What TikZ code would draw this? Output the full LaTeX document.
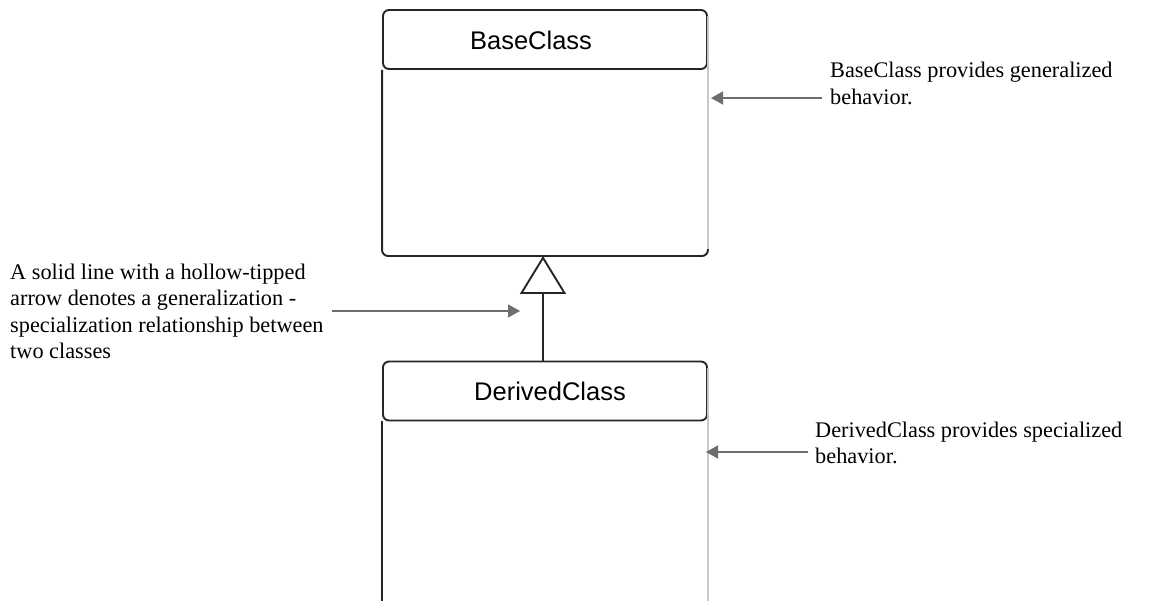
\documentclass[tikz,border=0pt]{standalone}
\usepackage{fontspec}
\setmainfont{Liberation Serif}
\newfontfamily\classfont{Liberation Sans}
\usetikzlibrary{positioning,calc,arrows.meta}
\definecolor{boxline}{HTML}{262626}
\definecolor{edgegray}{HTML}{C8C8C8}
\definecolor{notegray}{HTML}{6E6E6E}
\tikzset{header/.style={draw=boxline, line width=1.9pt, rounded corners=6pt, minimum width=324pt, minimum height=59pt, inner sep=0pt},
  classname/.style={font=\classfont\fontsize{25.5}{30}\selectfont, inner sep=0pt},
  classline/.style={draw=boxline, line width=1.9pt, rounded corners=6pt},
  edge/.style={draw=edgegray, line width=2.2pt},
  note/.style={align=left, inner sep=0pt, anchor=north west, font=\fontsize{22.3}{26.5}\selectfont},
  pointer/.style={draw=notegray, line width=1.5pt, -{Triangle[length=12pt,width=13pt]}},
  inherit/.style={draw=boxline, line width=1.9pt, -{Triangle[open,length=38pt,width=46pt]}}}

\begin{document}
\begin{tikzpicture}[x=1pt,y=-1pt]
    \clip (0,0) rectangle (1151,601);
    \fill[white] (0,0) rectangle (1151,601);

    % base class
    \node[header]               (basehead)    at (545,39.5) {};
    \node[classname]            (basename)    at (531,40) {BaseClass};
    \coordinate                 (basebottom)  at (543,256);
    \draw[classline] (basehead.south west) -- (basehead.south west |- basebottom) -- (basehead.south east |- basebottom) -- (basehead.south east);
    \draw[edge] ([yshift=-7pt]basehead.north east) -- ([yshift=7pt]basehead.east |- basebottom);

    % derived class
    \node[header]               (derivedhead) at (545,391) {};
    \node[classname]            (derivedname) at (550,391) {DerivedClass};
    \coordinate                 (derivedbottom) at (543,640);
    \draw[classline] (derivedhead.south west) -- (derivedhead.south west |- derivedbottom);
    \draw[classline] (derivedhead.south east) -- (derivedhead.south east |- derivedbottom);
    \draw[edge] ([yshift=-7pt]derivedhead.north east) -- (derivedhead.east |- derivedbottom);

    \draw[inherit]            (basebottom |- derivedhead.north) -- (basebottom);

    % notes
    \node[note]                 (basenote)    at (830,62) {BaseClass provides generalized\\behavior.};
    \node[note]                 (inhnote)     at (10,263.5) {A solid line with a hollow-tipped\\arrow denotes a generalization -\\specialization relationship between\\two classes};
    \node[note]                 (derivednote) at (815,421.5) {DerivedClass provides specialized\\behavior.};
    \coordinate                 (baseto)      at (711,98);
    \coordinate                 (inhto)       at (520,311);
    \coordinate                 (derivedto)   at (706,452);

    \draw[pointer]            ([xshift=-8pt]basenote.west |- baseto) -- (baseto);
    \draw[pointer]            ([xshift=8pt]inhnote.east |- inhto) -- (inhto);
    \draw[pointer]            ([xshift=-7pt]derivednote.west |- derivedto) -- (derivedto);
\end{tikzpicture}
\end{document}
